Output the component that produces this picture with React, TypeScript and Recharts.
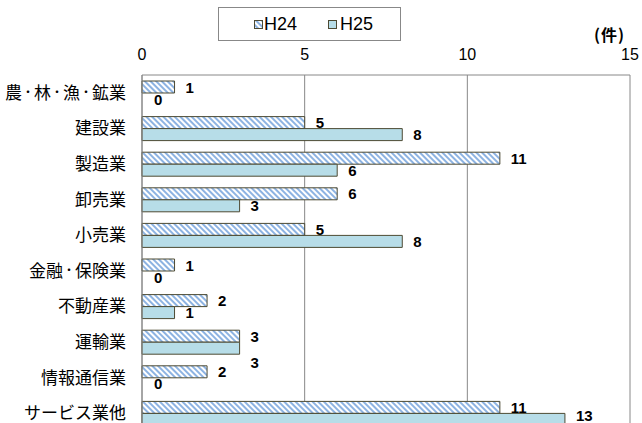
import React from 'react';
import { BarChart, Bar, XAxis, YAxis, CartesianGrid, LabelList, Rectangle } from 'recharts';

const categories = ['農・林・漁・鉱業', '建設業', '製造業', '卸売業', '小売業', '金融・保険業', '不動産業', '運輸業', '情報通信業', 'サービス業他'];
const h24 = [1, 5, 11, 6, 5, 1, 2, 3, 2, 11];
const h25 = [0, 8, 6, 3, 8, 0, 1, 3, 0, 13];
const xTicks = [0, 5, 10, 15];

const data = categories.map((name, i) => ({ name, h24: h24[i], h25: h25[i] }));

const BORDER = '#4d4a33';
const H25_FILL = '#b7dde8';
const HATCH = '#8db3e2';
const SANS = "'Liberation Sans', Arial, sans-serif";

const makeLabel = (series: 'h24' | 'h25') => (props: any) => {
  const { x, y, width, height, value, index } = props;
  const row = data[index];
  // H25 label is pushed down when it would sit on top of the H24 one
  const shift = series === 'h25' && row && row.h24 === row.h25 ? 14 : 0;
  // keep labels inside the visible page
  const ty = Math.min(y + height / 2 + 5.5 + shift, 421);
  return (
    <text x={x + width + 11} y={ty} fontFamily={SANS} fontWeight="bold" fontSize={15} fill="#000">
      {value}
    </text>
  );
};

const CategoryTick = (props: any) => {
  const { x, y, payload } = props;
  const parts = String(payload.value).split('・');
  const kids: React.ReactNode[] = [];
  parts.forEach((p, i) => {
    if (i > 0) {
      kids.push(<tspan key={'d' + i} fontSize={12} dy={-2}>・</tspan>);
      kids.push(<tspan key={'t' + i} dy={2}>{p}</tspan>);
    } else {
      kids.push(<tspan key={'t' + i}>{p}</tspan>);
    }
  });
  return (
    <text x={x} y={y} dy={6} textAnchor="end" fontSize={17} fontFamily="'Noto Sans CJK JP', sans-serif" fill="#000">
      {kids}
    </text>
  );
};

const ZeroSafeBar = (props: any) => {
  if (props.payload && props.payload[props.dataKey] === 0) return null;
  return <Rectangle {...props} />;
};

const LegendBox = () => (
  <div
    style={{
      position: 'absolute',
      left: 218,
      top: 7,
      width: 181,
      height: 32,
      border: '1px solid #888',
      background: '#fff',
      fontFamily: SANS,
      fontSize: 18,
      display: 'flex',
      alignItems: 'center',
    }}
  >
    <svg width={9} height={9} style={{ marginLeft: 35 }}>
      <defs>
        <pattern id="hatchLegend" width="4" height="4" patternUnits="userSpaceOnUse" patternTransform="rotate(-45)">
          <rect width="4" height="4" fill="#fff" />
          <rect width="2" height="4" fill={HATCH} />
        </pattern>
      </defs>
      <rect x={0.5} y={0.5} width={8} height={8} fill="url(#hatchLegend)" stroke={BORDER} />
    </svg>
    <span style={{ marginLeft: 1 }}>H24</span>
    <svg width={9} height={9} style={{ marginLeft: 31 }}>
      <rect x={0.5} y={0.5} width={8} height={8} fill={H25_FILL} stroke={BORDER} />
    </svg>
    <span style={{ marginLeft: 3 }}>H25</span>
  </div>
);

export default function App() {
  return (
    <div style={{ position: 'absolute', left: 0, top: 0, width: 642, height: 423, overflow: 'hidden', background: '#fff' }}>
      <BarChart
        width={642}
        height={433}
        data={data}
        layout="vertical"
        margin={{ top: 45, right: 12, left: 0, bottom: 2 }}
        barGap={0}
        barSize={12}
      >
        <defs>
          <pattern id="hatch" width="4" height="4" patternUnits="userSpaceOnUse" patternTransform="rotate(-45)">
            <rect width="4" height="4" fill="#fff" />
            <rect width="2" height="4" fill={HATCH} />
          </pattern>
        </defs>
        <CartesianGrid vertical horizontal={false} stroke="#888" />
        <XAxis
          type="number"
          orientation="top"
          domain={[0, 15]}
          ticks={xTicks}
          height={30}
          axisLine={{ stroke: '#888' }}
          tickLine={false}
          tickMargin={9}
          tick={{ fill: '#000', fontSize: 16, fontFamily: SANS }}
        />
        <YAxis
          type="category"
          dataKey="name"
          width={142}
          axisLine={{ stroke: '#888' }}
          tickLine={false}
          tickMargin={10}
          interval={0}
          tick={<CategoryTick />}
        />
        <Bar
          dataKey="h24"
          name="H24"
          fill="url(#hatch)"
          stroke={BORDER}
          strokeWidth={1}
          minPointSize={1}
          shape={ZeroSafeBar}
          isAnimationActive={false}
        >
          <LabelList dataKey="h24" content={makeLabel('h24')} />
        </Bar>
        <Bar
          dataKey="h25"
          name="H25"
          fill={H25_FILL}
          stroke={BORDER}
          strokeWidth={1}
          minPointSize={1}
          shape={ZeroSafeBar}
          isAnimationActive={false}
        >
          <LabelList dataKey="h25" content={makeLabel('h25')} />
        </Bar>
      </BarChart>
      <LegendBox />
      <div
        style={{
          position: 'absolute',
          left: 594,
          top: 22,
          fontFamily: "'Noto Sans CJK JP', sans-serif",
          fontWeight: 'bold',
          fontSize: 16,
          letterSpacing: 1,
        }}
      >
        (件)
      </div>
    </div>
  );
}
